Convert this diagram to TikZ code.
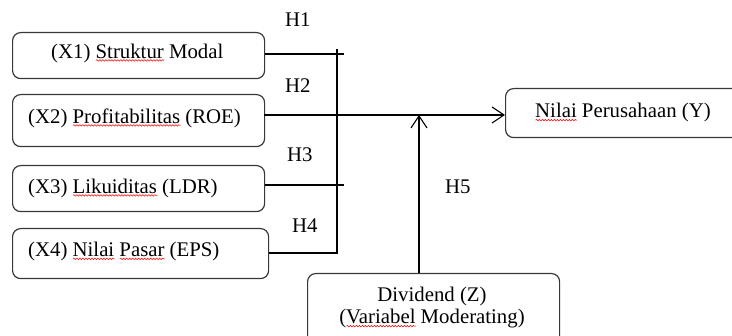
\documentclass[tikz,border=0pt]{standalone}
\usepackage{fontspec}
\setmainfont{Liberation Serif}
\usetikzlibrary{arrows.meta,decorations.pathmorphing}
\newsavebox\spbox
\newcommand\spellw[1]{\sbox\spbox{#1}\rlap{\raisebox{-3.2pt}[0pt][0pt]{\tikz[x=1pt,y=1pt]\draw[red,line width=0.5pt,decorate,decoration={snake,amplitude=0.8pt,segment length=3pt}] (0,0) -- (\wd\spbox,0);}}\usebox\spbox}
\tikzset{
  box/.style={draw=black!78, line width=1.2pt, rounded corners=8pt, anchor=north west, inner sep=0pt},
  lbl/.style={font=\fontsize{20.8}{22}\selectfont, inner sep=0pt},
  conn/.style={draw=black, line width=1.1pt},
  arr/.style={conn, -{Straight Barb[length=12pt,width=16pt]}},
}
\begin{document}
\begin{tikzpicture}[x=1pt,y=-1pt]
\useasboundingbox (0,0) rectangle (732,336);
\clip (0,0) rectangle (732,336);
% boxes
\node[box, minimum width=252pt, minimum height=46pt] (x1) at (12,32) {};
\node[box, minimum width=252pt, minimum height=52pt] (x2) at (12,94) {};
\node[box, minimum width=252pt, minimum height=46pt] (x3) at (12,165) {};
\node[box, minimum width=256pt, minimum height=50pt] (x4) at (12,228) {};
\node[box, minimum width=240pt, minimum height=49pt] (y) at (505,88) {};
\node[box, minimum width=252pt, minimum height=75pt] (z) at (307,273) {};
% texts
\node[lbl, anchor=base west] (x1t) at (51,58.3) {(X1) \spellw{Struktur} Modal};
\node[lbl, anchor=base west] (x2t) at (28,123.3) {(X2) \spellw{Profitabilitas} (ROE)};
\node[lbl, anchor=base west] (x3t) at (28,193.3) {(X3) \spellw{Likuiditas} (LDR)};
\node[lbl, anchor=base west] (x4t) at (28,256.7) {(X4) \spellw{Nilai} \spellw{Pasar} (EPS)};
\node[lbl, anchor=base west] (yt) at (535,118) {\spellw{Nilai} Perusahaan (Y)};
\node[lbl, anchor=base] (zt1) at (432,301.7) {Dividend (Z)};
\node[lbl, anchor=base] (zt2) at (432,324) {(\spellw{Variabel} Moderating)};
% hypothesis labels
\node[lbl, anchor=base west] (h1) at (285,27) {H1};
\node[lbl, anchor=base west] (h2) at (285,93) {H2};
\node[lbl, anchor=base west] (h3) at (287,162) {H3};
\node[lbl, anchor=base west] (h4) at (292,233) {H4};
\node[lbl, anchor=base west] (h5) at (445,194) {H5};
% junction coordinates
\coordinate (j1) at (344,54);
\coordinate (j3) at (344,185);
\coordinate (vtop) at (337,49);
\coordinate (vbot) at (337,253);
\coordinate (m2) at (264,115);
\coordinate (mz) at (419,115);
% connectors
\draw[conn] (x1.east |- j1) -- (j1);
\draw[conn] (x3.east |- j3) -- (j3);
\draw[conn] (vtop) -- (vbot) -- (x4.east |- vbot);
\draw[arr] (m2) -- (y.west |- m2);
\draw[arr] (z.north -| mz) -- (mz);
\end{tikzpicture}
\end{document}
